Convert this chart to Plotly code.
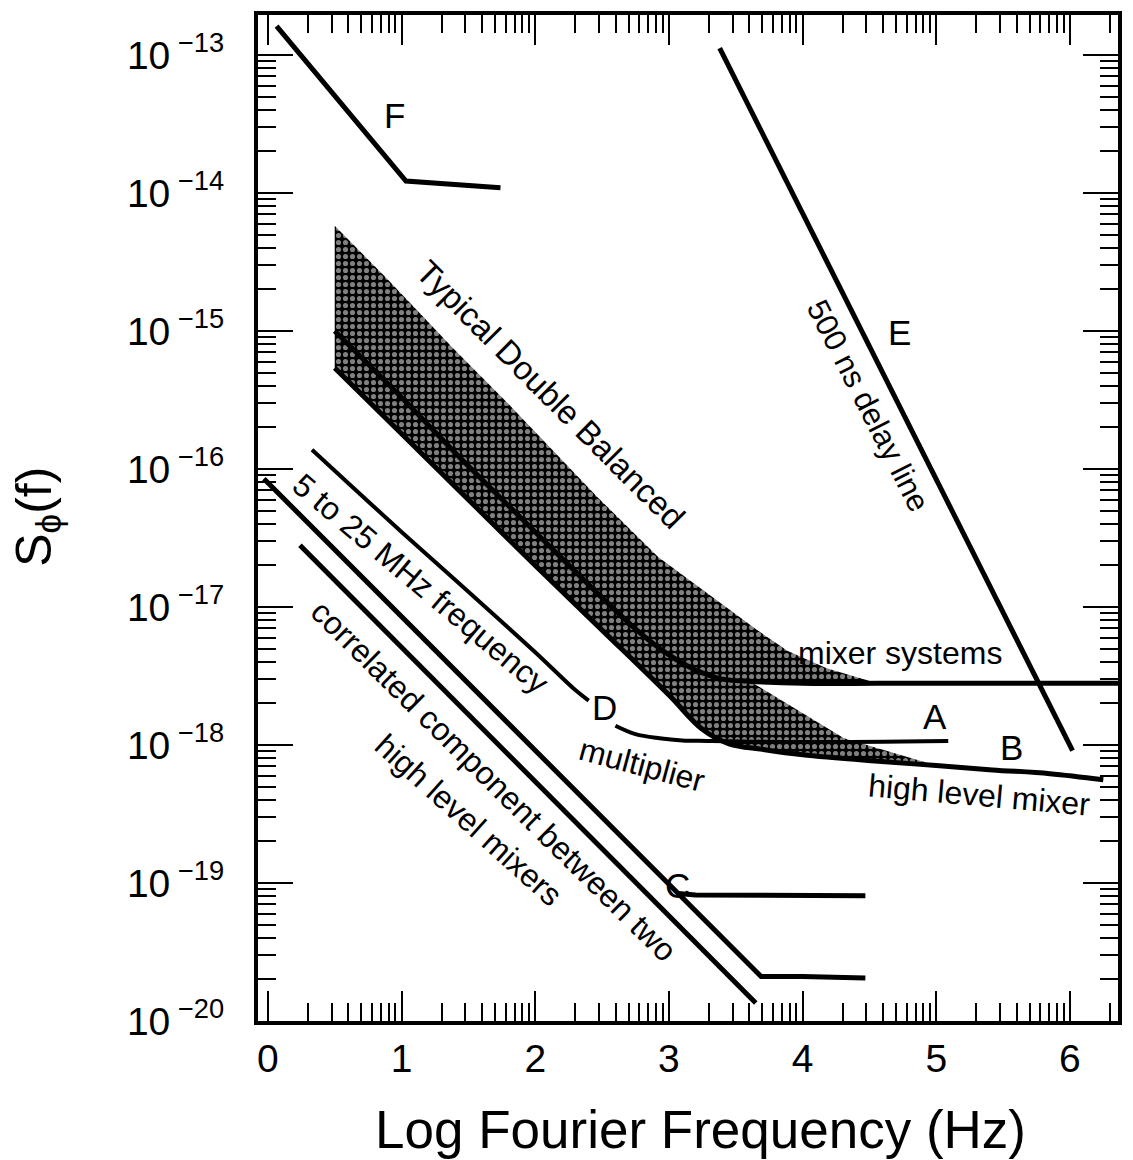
import plotly.graph_objects as go
import math

# ---------------- data ----------------
# x = log10 Fourier frequency (Hz), y = S_phi(f)

# F
f_x = [0.065, 1.033, 1.74]
f_y = [1.62e-13, 1.22e-14, 1.09e-14]

# E : 500 ns delay line
e_x = [3.38, 4.0, 5.0, 6.02]
e_y = [1.12e-13, 7.1e-15, 8.5e-17, 9.1e-19]

# centre curve of the double balanced mixer band ("mixer systems")
a_x = [0.5, 1.0, 1.5, 2.0, 2.5, 2.8, 3.0, 3.2, 3.4, 3.6, 4.0, 4.56, 5.0, 5.75, 6.36]
a_y = [1.0e-15, 3.3e-16, 1.05e-16, 3.5e-17, 1.17e-17, 6.3e-18, 4.5e-18, 3.5e-18,
       3.0e-18, 2.9e-18, 2.8e-18, 2.8e-18, 2.8e-18, 2.8e-18, 2.8e-18]

# upper edge of shaded band
u_x = [0.5, 0.89, 1.38, 1.78, 2.12, 2.47, 2.92, 3.37, 3.66, 3.89, 4.18, 4.56]
u_y = [5.8e-15, 2.4e-15, 7.6e-16, 3.1e-16, 1.4e-16, 6.2e-17, 2.3e-17, 1.1e-17,
       6.8e-18, 4.8e-18, 3.6e-18, 2.8e-18]

# lower edge of band continuing as B (high level mixer)
b_x = [0.5, 1.0, 1.5, 2.0, 2.5, 3.0, 3.25, 3.45, 3.7, 4.0, 4.59, 5.0, 5.42, 5.85, 6.25]
b_y = [5.4e-16, 1.8e-16, 6.0e-17, 2.0e-17, 6.8e-18, 2.3e-18, 1.3e-18, 1.02e-18,
       9.3e-19, 8.5e-19, 7.6e-19, 7.1e-19, 6.6e-19, 6.2e-19, 5.6e-19]

# inner edge of the lower shaded strip (leaves centre curve, joins B)
m_x = [3.66, 4.31, 5.0]
m_y = [2.7e-18, 1.12e-18, 7.1e-19]

# D : 5 to 25 MHz frequency multiplier
d1_x = [0.33, 1.0, 1.5, 2.0, 2.3, 2.4]
d1_y = [1.38e-16, 3.5e-17, 1.29e-17, 4.7e-18, 2.5e-18, 2.1e-18]
d2_x = [2.6, 2.75, 2.93, 3.1, 3.29, 4.0, 5.09]
d2_y = [1.38e-18, 1.2e-18, 1.12e-18, 1.08e-18, 1.07e-18, 1.05e-18, 1.07e-18]

# C line (diagonal, knee, plateau) and branch plateau at C
c_x = [-0.03, 1.0, 2.0, 3.05, 3.69, 4.0, 4.47]
c_y = [8.5e-17, 8.5e-18, 9.1e-19, 8.7e-20, 2.1e-20, 2.1e-20, 2.05e-20]
cb_x = [3.07, 3.2, 4.47]
cb_y = [8.4e-20, 8.2e-20, 8.1e-20]

# correlated component between two high level mixers
g_x = [0.24, 1.0, 2.0, 3.0, 3.65]
g_y = [2.8e-17, 5.1e-18, 5.5e-19, 5.8e-20, 1.35e-20]

# axis ticks
x_ticks = [0, 1, 2, 3, 4, 5, 6]
x_ticktext = ["0", "1", "2", "3", "4", "5", "6"]
y_exps = [-13, -14, -15, -16, -17, -18, -19, -20]

# ---------------- figure ----------------
FONT = "Liberation Sans, Arial, Helvetica, sans-serif"
fig = go.Figure()

pattern = dict(shape=".", bgcolor="black", fgcolor="white", size=7, solidity=0.42)

# upper shaded region: upper edge, then back along centre curve
poly1_x = u_x + [x for x in reversed(a_x) if x <= u_x[-1]]
poly1_y = u_y + [y for x, y in reversed(list(zip(a_x, a_y))) if x <= u_x[-1]]
fig.add_trace(go.Scatter(x=poly1_x, y=poly1_y, fill="toself", mode="lines",
                         line=dict(width=0, color="black"), fillpattern=pattern,
                         fillcolor="black", hoverinfo="skip", showlegend=False))

# lower shaded region: centre curve, inner edge, back along B
cen_part = [(x, y) for x, y in zip(a_x, a_y) if x <= 3.6]
b_part = [(x, y) for x, y in reversed(list(zip(b_x, b_y))) if x < m_x[-1]]
poly2_x = [p[0] for p in cen_part] + m_x + [p[0] for p in b_part]
poly2_y = [p[1] for p in cen_part] + m_y + [p[1] for p in b_part]
fig.add_trace(go.Scatter(x=poly2_x, y=poly2_y, fill="toself", mode="lines",
                         line=dict(width=0, color="black"), fillpattern=pattern,
                         fillcolor="black", hoverinfo="skip", showlegend=False))

def line(x, y, w=5, shape="linear"):
    fig.add_trace(go.Scatter(x=x, y=y, mode="lines",
                             line=dict(color="black", width=w, shape=shape),
                             hoverinfo="skip", showlegend=False))

line(f_x, f_y)
line(e_x, e_y)
line(a_x, a_y, 5, "spline")
line(b_x, b_y, 5, "spline")
line(d1_x, d1_y, 4, "spline")
line(d2_x, d2_y, 4, "spline")
line(c_x, c_y)
line(cb_x, cb_y)
line(g_x, g_y)

# ---------------- text labels ----------------
def txt(x, y, s, size=33, angle=0):
    fig.add_annotation(x=x, y=y, xref="x", yref="y", text=s, showarrow=False,
                       textangle=angle, xanchor="center", yanchor="middle",
                       font=dict(family=FONT, size=size, color="black"))

txt(0.946, -13.44, "F", 35)
txt(4.728, -15.01, "E", 35)
txt(4.49, -15.54, "500 ns delay line", 31, 63)
txt(2.115, -15.46, "Typical Double Balanced", 33, 45)
txt(1.147, -16.83, "5 to 25 MHz frequency", 32, 40)
txt(1.69, -18.26, "correlated component between two", 32, 44.6)
txt(1.504, -18.54, "high level mixers", 32, 42)
txt(2.80, -18.145, "multiplier", 32, 15)
txt(4.728, -17.333, "mixer systems", 32, 0)
txt(4.989, -17.79, "A", 35)
txt(5.562, -18.02, "B", 35)
txt(2.517, -17.73, "D", 35)
txt(3.068, -19.02, "C", 35)
txt(5.324, -18.36, "high level mixer", 32, 5)

# axis titles
fig.add_annotation(x=0.515, y=-0.108, xref="paper", yref="paper",
                   xanchor="center", yanchor="middle",
                   text="Log Fourier Frequency (Hz)", showarrow=False,
                   font=dict(family=FONT, size=53, color="black"))
fig.add_annotation(x=-0.256, y=0.501, xref="paper", yref="paper",
                   xanchor="center", yanchor="middle",
                   text="S<sub>ϕ</sub>(f)", showarrow=False, textangle=-90,
                   font=dict(family=FONT, size=50, color="black"))

# ---------------- axes ----------------
x_minor = [k + math.log10(m) for k in range(0, 7) for m in range(2, 10)
           if k + math.log10(m) < 6.36]
y_minor = [m * 10.0 ** k for k in range(-21, -12) for m in range(2, 10)]

fig.update_xaxes(range=[-0.074, 6.36], tickmode="array", tickvals=x_ticks,
                 ticktext=x_ticktext, ticks="inside", ticklen=30, tickwidth=2,
                 tickcolor="black", showline=True, linewidth=4, linecolor="black",
                 mirror="ticks", showgrid=False, zeroline=False,
                 ticklabelstandoff=0,
                 tickfont=dict(family=FONT, size=39, color="black"),
                 minor=dict(tickmode="array", tickvals=x_minor, ticks="inside",
                            ticklen=18, tickwidth=2, tickcolor="black", showgrid=False))

fig.update_yaxes(type="log", range=[-20, -12.71], tickmode="array",
                 tickvals=[10.0 ** e for e in y_exps],
                 ticktext=["10<sup> −%d</sup>" % (-e) for e in y_exps],
                 ticks="inside", ticklen=35, tickwidth=2, tickcolor="black",
                 showline=True, linewidth=4, linecolor="black", mirror="ticks",
                 showgrid=False, zeroline=False, ticklabelstandoff=22,
                 tickfont=dict(family=FONT, size=39, color="black"),
                 minor=dict(tickmode="array", tickvals=y_minor, ticks="inside",
                            ticklen=18, tickwidth=2, tickcolor="black", showgrid=False))

fig.update_layout(width=1133, height=1160,
                  margin=dict(l=258, r=11, t=15, b=139),
                  paper_bgcolor="white", plot_bgcolor="white",
                  showlegend=False)

fig.write_html("out.html")
